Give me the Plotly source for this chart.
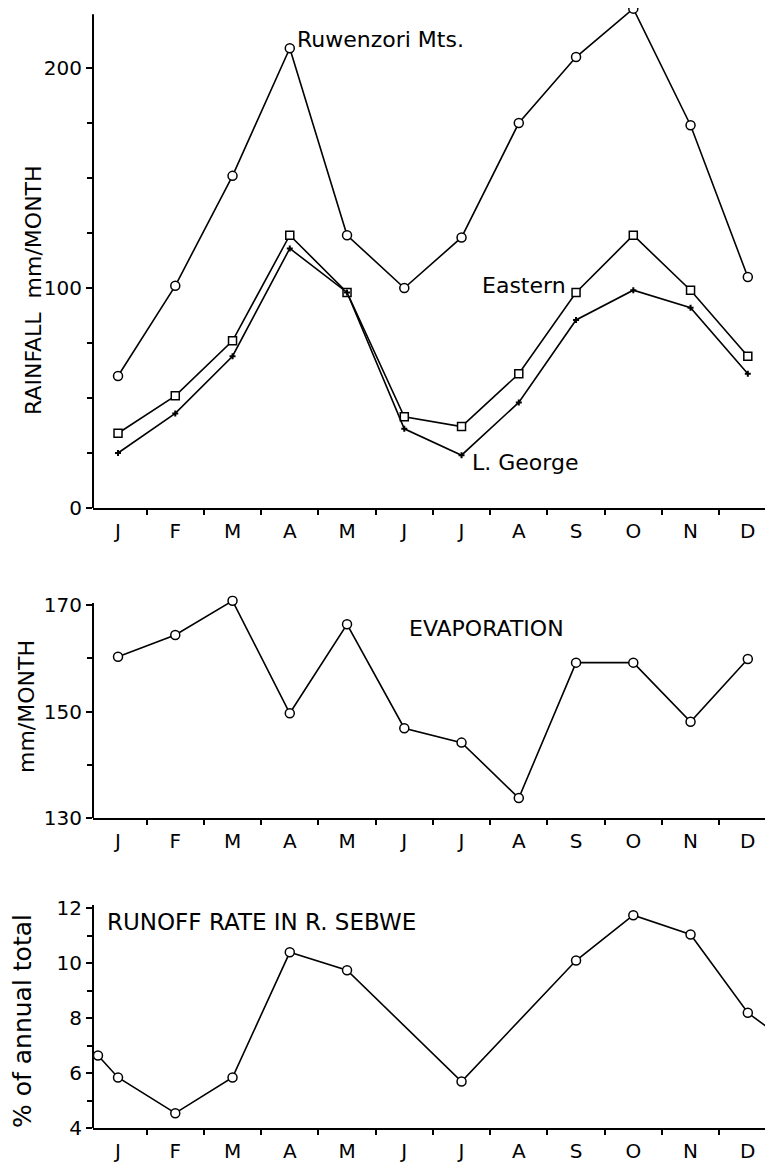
import plotly.graph_objects as go

# ---------------- data ----------------
months = ["J", "F", "M", "A", "M", "J", "J", "A", "S", "O", "N", "D"]
month_idx = list(range(12))

ruwenzori = [60, 101, 151, 209, 124, 100, 123, 175, 205, 227, 174, 105]
eastern = [34, 51, 76, 124, 98, 41.5, 37, 61, 98, 124, 99, 69]
lgeorge = [25, 43, 69, 118, 98, 36, 24, 48, 85.5, 99, 91, 61]

evaporation = [160.3, 164.4, 170.8, 149.7, 166.4, 146.9, 144.2, 133.8, 159.2, 159.2, 148.1, 159.9]

runoff_x = [-0.35, 0, 1, 2, 3, 4, 6, 8, 9, 10, 11, 12]
runoff = [6.65, 5.85, 4.55, 5.85, 10.4, 9.75, 5.7, 10.1, 11.75, 11.05, 8.2, 6.65]

# ---------------- layout helpers ----------------
# the page body has an 8px margin, so the figure is drawn at (8, 8) in the window
OFF = 8
W, H = 773 - OFF, 1167 - OFF
FONT = "DejaVu Sans"


def px(x):
    return (x - OFF) / W


def py(y):
    return 1 - (y - OFF) / H


LINE = dict(color="black", width=1.6)
OPEN_CIRCLE = dict(symbol="circle", size=9, color="white", line=dict(color="black", width=1.5))

fig = go.Figure()

# top panel
fig.add_trace(go.Scatter(x=month_idx, y=ruwenzori, mode="lines+markers", xaxis="x", yaxis="y",
                         line=LINE, marker=OPEN_CIRCLE, cliponaxis=False))
fig.add_trace(go.Scatter(x=month_idx, y=eastern, mode="lines+markers", xaxis="x", yaxis="y",
                         line=LINE,
                         marker=dict(symbol="square", size=8, color="white", line=dict(color="black", width=1.5))))
fig.add_trace(go.Scatter(x=month_idx, y=lgeorge, mode="lines+markers", xaxis="x", yaxis="y",
                         line=LINE,
                         marker=dict(symbol="cross", size=5, color="black", line=dict(width=0))))

# middle panel
fig.add_trace(go.Scatter(x=month_idx, y=evaporation, mode="lines+markers", xaxis="x2", yaxis="y2",
                         line=LINE, marker=OPEN_CIRCLE))

# bottom panel
fig.add_trace(go.Scatter(x=runoff_x, y=runoff, mode="lines+markers", xaxis="x3", yaxis="y3",
                         line=LINE, marker=OPEN_CIRCLE))

xdom = [px(93), 1.0]
xrange_ = [-0.437, 11.44]


def xaxis(anchor):
    return dict(domain=xdom, range=xrange_, anchor=anchor, automargin=False,
                tickmode="array", tickvals=month_idx, ticktext=months, ticks="",
                showline=True, linecolor="black", linewidth=2,
                showgrid=False, zeroline=False, ticklabelstandoff=4,
                tickfont=dict(family=FONT, size=20, color="black"),
                minor=dict(tickmode="array", tickvals=[i + 0.5 for i in range(-1, 12)],
                           ticks="outside", ticklen=5, tickwidth=1.5, tickcolor="black",
                           showgrid=False))


def yaxis(anchor, dom, rng, major, minor):
    return dict(domain=dom, range=rng, anchor=anchor, automargin=False,
                tickmode="array", tickvals=major, ticks="outside", ticklen=6, tickwidth=1.5,
                tickcolor="black", showline=False,
                showgrid=False, zeroline=False,
                tickfont=dict(family=FONT, size=20, color="black"),
                minor=dict(tickmode="array", tickvals=minor, ticks="outside", ticklen=5,
                           tickwidth=1.5, tickcolor="black", showgrid=False))


fig.update_layout(
    width=W, height=H,
    margin=dict(l=0, r=0, t=0, b=0, autoexpand=False),
    paper_bgcolor="white", plot_bgcolor="white",
    showlegend=False,
    xaxis=xaxis("y"),
    xaxis2=xaxis("y2"),
    xaxis3=xaxis("y3"),
    yaxis=yaxis("x", [py(508), 1.0], [0, 227.3], [0, 100, 200], list(range(0, 201, 25))),
    yaxis2=yaxis("x2", [py(818.3), py(595.5)], [130, 171.8], [130, 150, 170], list(range(130, 171, 10))),
    yaxis3=yaxis("x3", [py(1128.3), py(905)], [4, 12.12], [4, 6, 8, 10, 12], list(range(4, 13))),
)

# visible left axis lines (stop at the drawn top of each scale)
for xr, yr, top, bot in [("x domain", "y", 224.5, 0), ("x2 domain", "y2", 170.4, 130),
                         ("x3 domain", "y3", 12.12, 4)]:
    fig.add_shape(type="line", xref=xr, yref=yr, x0=0, x1=0, y0=bot, y1=top,
                  line=dict(color="black", width=2))

annos = [
    dict(text="RAINFALL  mm/MONTH", x=px(33), y=py(290), textangle=-90, size=22),
    dict(text="mm/MONTH", x=px(26), y=py(707), textangle=-90, size=22),
    dict(text="% of annual total", x=px(22), y=py(1021), textangle=-90, size=25),
]
for a in annos:
    fig.add_annotation(text=a["text"], x=a["x"], y=a["y"], xref="paper", yref="paper",
                       textangle=a["textangle"], showarrow=False, xanchor="center", yanchor="middle",
                       font=dict(family=FONT, size=a["size"], color="black"))

labels = [
    ("Ruwenzori Mts.", 295, 40, 22),
    ("Eastern", 480, 285, 22),
    ("L. George", 470, 462, 22),
    ("EVAPORATION", 407, 628, 22),
    ("RUNOFF RATE IN R. SEBWE", 105, 922, 23),
]
for t, x, y, s in labels:
    fig.add_annotation(text=t, x=px(x), y=py(y), xref="paper", yref="paper", showarrow=False,
                       xanchor="left", yanchor="middle",
                       font=dict(family=FONT, size=s, color="black"))

fig.write_html("out.html")
